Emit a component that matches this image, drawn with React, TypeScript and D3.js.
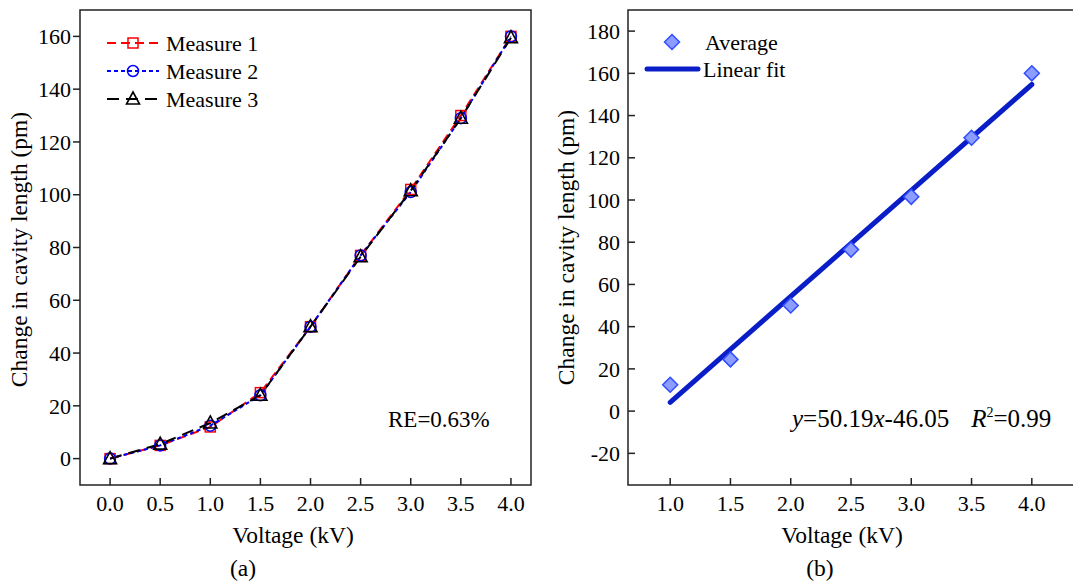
import React from 'react'
import * as d3 from 'd3'

// panel (a): three measurements
const voltageA = [0, 0.5, 1.0, 1.5, 2.0, 2.5, 3.0, 3.5, 4.0]
const measure1 = [0, 5, 12, 25, 50, 77, 102, 130, 160]
const measure2 = [0, 5, 12.5, 24, 50, 77, 101, 129, 160]
const measure3 = [0, 5.5, 13.5, 24, 50, 76.5, 101.5, 129, 159.5]
const ticksXA = [0, 0.5, 1.0, 1.5, 2.0, 2.5, 3.0, 3.5, 4.0]
const ticksYA = [0, 20, 40, 60, 80, 100, 120, 140, 160]

// panel (b): average and linear fit
const voltageB = [1.0, 1.5, 2.0, 2.5, 3.0, 3.5, 4.0]
const average = [12.5, 24.5, 50, 76.5, 101.5, 129.5, 160]
const fitSlope = 50.19
const fitIntercept = -46.05
const fitRange = [1.0, 4.0]
const ticksXB = [1.0, 1.5, 2.0, 2.5, 3.0, 3.5, 4.0]
const ticksYB = [-20, 0, 20, 40, 60, 80, 100, 120, 140, 160, 180]

const font = '"Liberation Serif", "Times New Roman", serif'
const fs = 22
const titleFs = 23.5
const axisColor = '#222'

const Square = ({ x, y, c }) => (
  <rect x={x - 5} y={y - 5} width={10} height={10} fill="none" stroke={c} strokeWidth={1.5} />
)
const Circle = ({ x, y, c }) => (
  <circle cx={x} cy={y} r={5.5} fill="none" stroke={c} strokeWidth={1.5} />
)
const Triangle = ({ x, y, c }) => (
  <path d={`M${x},${y - 7}L${x + 6.5},${y + 5}L${x - 6.5},${y + 5}Z`} fill="none" stroke={c} strokeWidth={1.6} />
)
const Diamond = ({ x, y }) => (
  <path d={`M${x},${y - 7.5}L${x + 7.5},${y}L${x},${y + 7.5}L${x - 7.5},${y}Z`} fill="#8c9cff" stroke="#2f4dff" strokeWidth={1.5} />
)

const fmt = d3.format('.1f')

function PanelA() {
  const left = 80, right = 531, top = 10, bottom = 485
  const x = d3.scaleLinear().domain([-0.3, 4.2]).range([left, right])
  const y = d3.scaleLinear().domain([-10, 170]).range([bottom, top])
  const line = d3.line<number>().x((_, i) => x(voltageA[i])).y(d => y(d))
  const series = [
    { name: 'Measure 1', data: measure1, color: '#ff0000', dash: '9,5', M: Square },
    { name: 'Measure 2', data: measure2, color: '#0000ff', dash: '4,3', M: Circle },
    { name: 'Measure 3', data: measure3, color: '#000000', dash: '12,7', M: Triangle },
  ]
  return (
    <g>
      {series.map(s => (
        <path key={s.name} d={line(s.data)} fill="none" stroke={s.color} strokeWidth={2} strokeDasharray={s.dash} />
      ))}
      {series.map(s => s.data.map((d, i) => <s.M key={s.name + i} x={x(voltageA[i])} y={y(d)} c={s.color} />))}
      <rect x={left} y={top} width={right - left} height={bottom - top} fill="none" stroke={axisColor} strokeWidth={1.5} />
      {ticksYA.map(t => (
        <g key={t}>
          <line x1={left - 7} x2={left} y1={y(t)} y2={y(t)} stroke={axisColor} strokeWidth={1.5} />
          <text x={left - 9} y={y(t)} dy="0.35em" textAnchor="end" fontSize={fs}>{t}</text>
        </g>
      ))}
      {ticksXA.map(t => (
        <g key={t}>
          <line x1={x(t)} x2={x(t)} y1={bottom} y2={bottom - 7} stroke={axisColor} strokeWidth={1.5} />
          <text x={x(t)} y={511} textAnchor="middle" fontSize={fs}>{fmt(t)}</text>
        </g>
      ))}
      <text x={293} y={543} textAnchor="middle" fontSize={titleFs}>Voltage (kV)</text>
      <text transform={`translate(27,${(top + bottom) / 2 + 2}) rotate(-90)`} textAnchor="middle" fontSize={titleFs}>Change in cavity length (pm)</text>
      <text x={243} y={576} textAnchor="middle" fontSize={titleFs}>(a)</text>
      <text x={388} y={427} fontSize={23}>RE=0.63%</text>
      {series.map((s, i) => {
        const ly = 43 + i * 28
        return (
          <g key={s.name}>
            <line x1={107} x2={159} y1={ly} y2={ly} stroke={s.color} strokeWidth={2} strokeDasharray={s.dash} />
            <s.M x={133} y={ly} c={s.color} />
            <text x={166} y={ly} dy="0.35em" fontSize={fs}>{s.name}</text>
          </g>
        )
      })}
    </g>
  )
}

function PanelB() {
  const left = 628, right = 1074, top = 10, bottom = 485
  const x = d3.scaleLinear().domain([0.65, 4.35]).range([left, right])
  const y = d3.scaleLinear().domain([-35, 190]).range([bottom, top])
  const fitLine = d3.line<number>().x(d => x(d)).y(d => y(fitSlope * d + fitIntercept))
  return (
    <g>
      <path d={fitLine(fitRange)} fill="none" stroke="#0a1ec8" strokeWidth={5} strokeLinecap="round" />
      {average.map((d, i) => <Diamond key={i} x={x(voltageB[i])} y={y(d)} />)}
      <rect x={left} y={top} width={right - left} height={bottom - top} fill="none" stroke={axisColor} strokeWidth={1.5} />
      {ticksYB.map(t => (
        <g key={t}>
          <line x1={left} x2={left + 7} y1={y(t)} y2={y(t)} stroke={axisColor} strokeWidth={1.5} />
          <text x={left - 8} y={y(t)} dy="0.35em" textAnchor="end" fontSize={fs}>{t}</text>
        </g>
      ))}
      {ticksXB.map(t => (
        <g key={t}>
          <line x1={x(t)} x2={x(t)} y1={bottom} y2={bottom - 7} stroke={axisColor} strokeWidth={1.5} />
          <text x={x(t)} y={511} textAnchor="middle" fontSize={fs}>{fmt(t)}</text>
        </g>
      ))}
      <text x={842} y={543} textAnchor="middle" fontSize={titleFs}>Voltage (kV)</text>
      <text transform={`translate(574,${(top + bottom) / 2}) rotate(-90)`} textAnchor="middle" fontSize={titleFs}>Change in cavity length (pm)</text>
      <text x={820} y={576} textAnchor="middle" fontSize={titleFs}>(b)</text>
      <text x={792} y={427} fontSize={25}>
        <tspan fontStyle="italic">y</tspan>=50.19<tspan fontStyle="italic">x</tspan>-46.05
        <tspan dx={22} fontStyle="italic">R</tspan>
        <tspan fontSize={14} dy={-10}>2</tspan>
        <tspan dy={10}>=0.99</tspan>
      </text>
      <Diamond x={672} y={42} />
      <text x={705} y={42} dy="0.35em" fontSize={fs}>Average</text>
      <line x1={647} x2={698} y1={69} y2={69} stroke="#0a1ec8" strokeWidth={5} strokeLinecap="round" />
      <text x={703} y={69} dy="0.35em" fontSize={fs}>Linear fit</text>
    </g>
  )
}

export default function App() {
  return (
    <svg width={1073} height={583} style={{ position: 'absolute', left: 0, top: 0, background: '#fff' }}
      fontFamily={font} fill="#000">
      <PanelA />
      <PanelB />
    </svg>
  )
}
